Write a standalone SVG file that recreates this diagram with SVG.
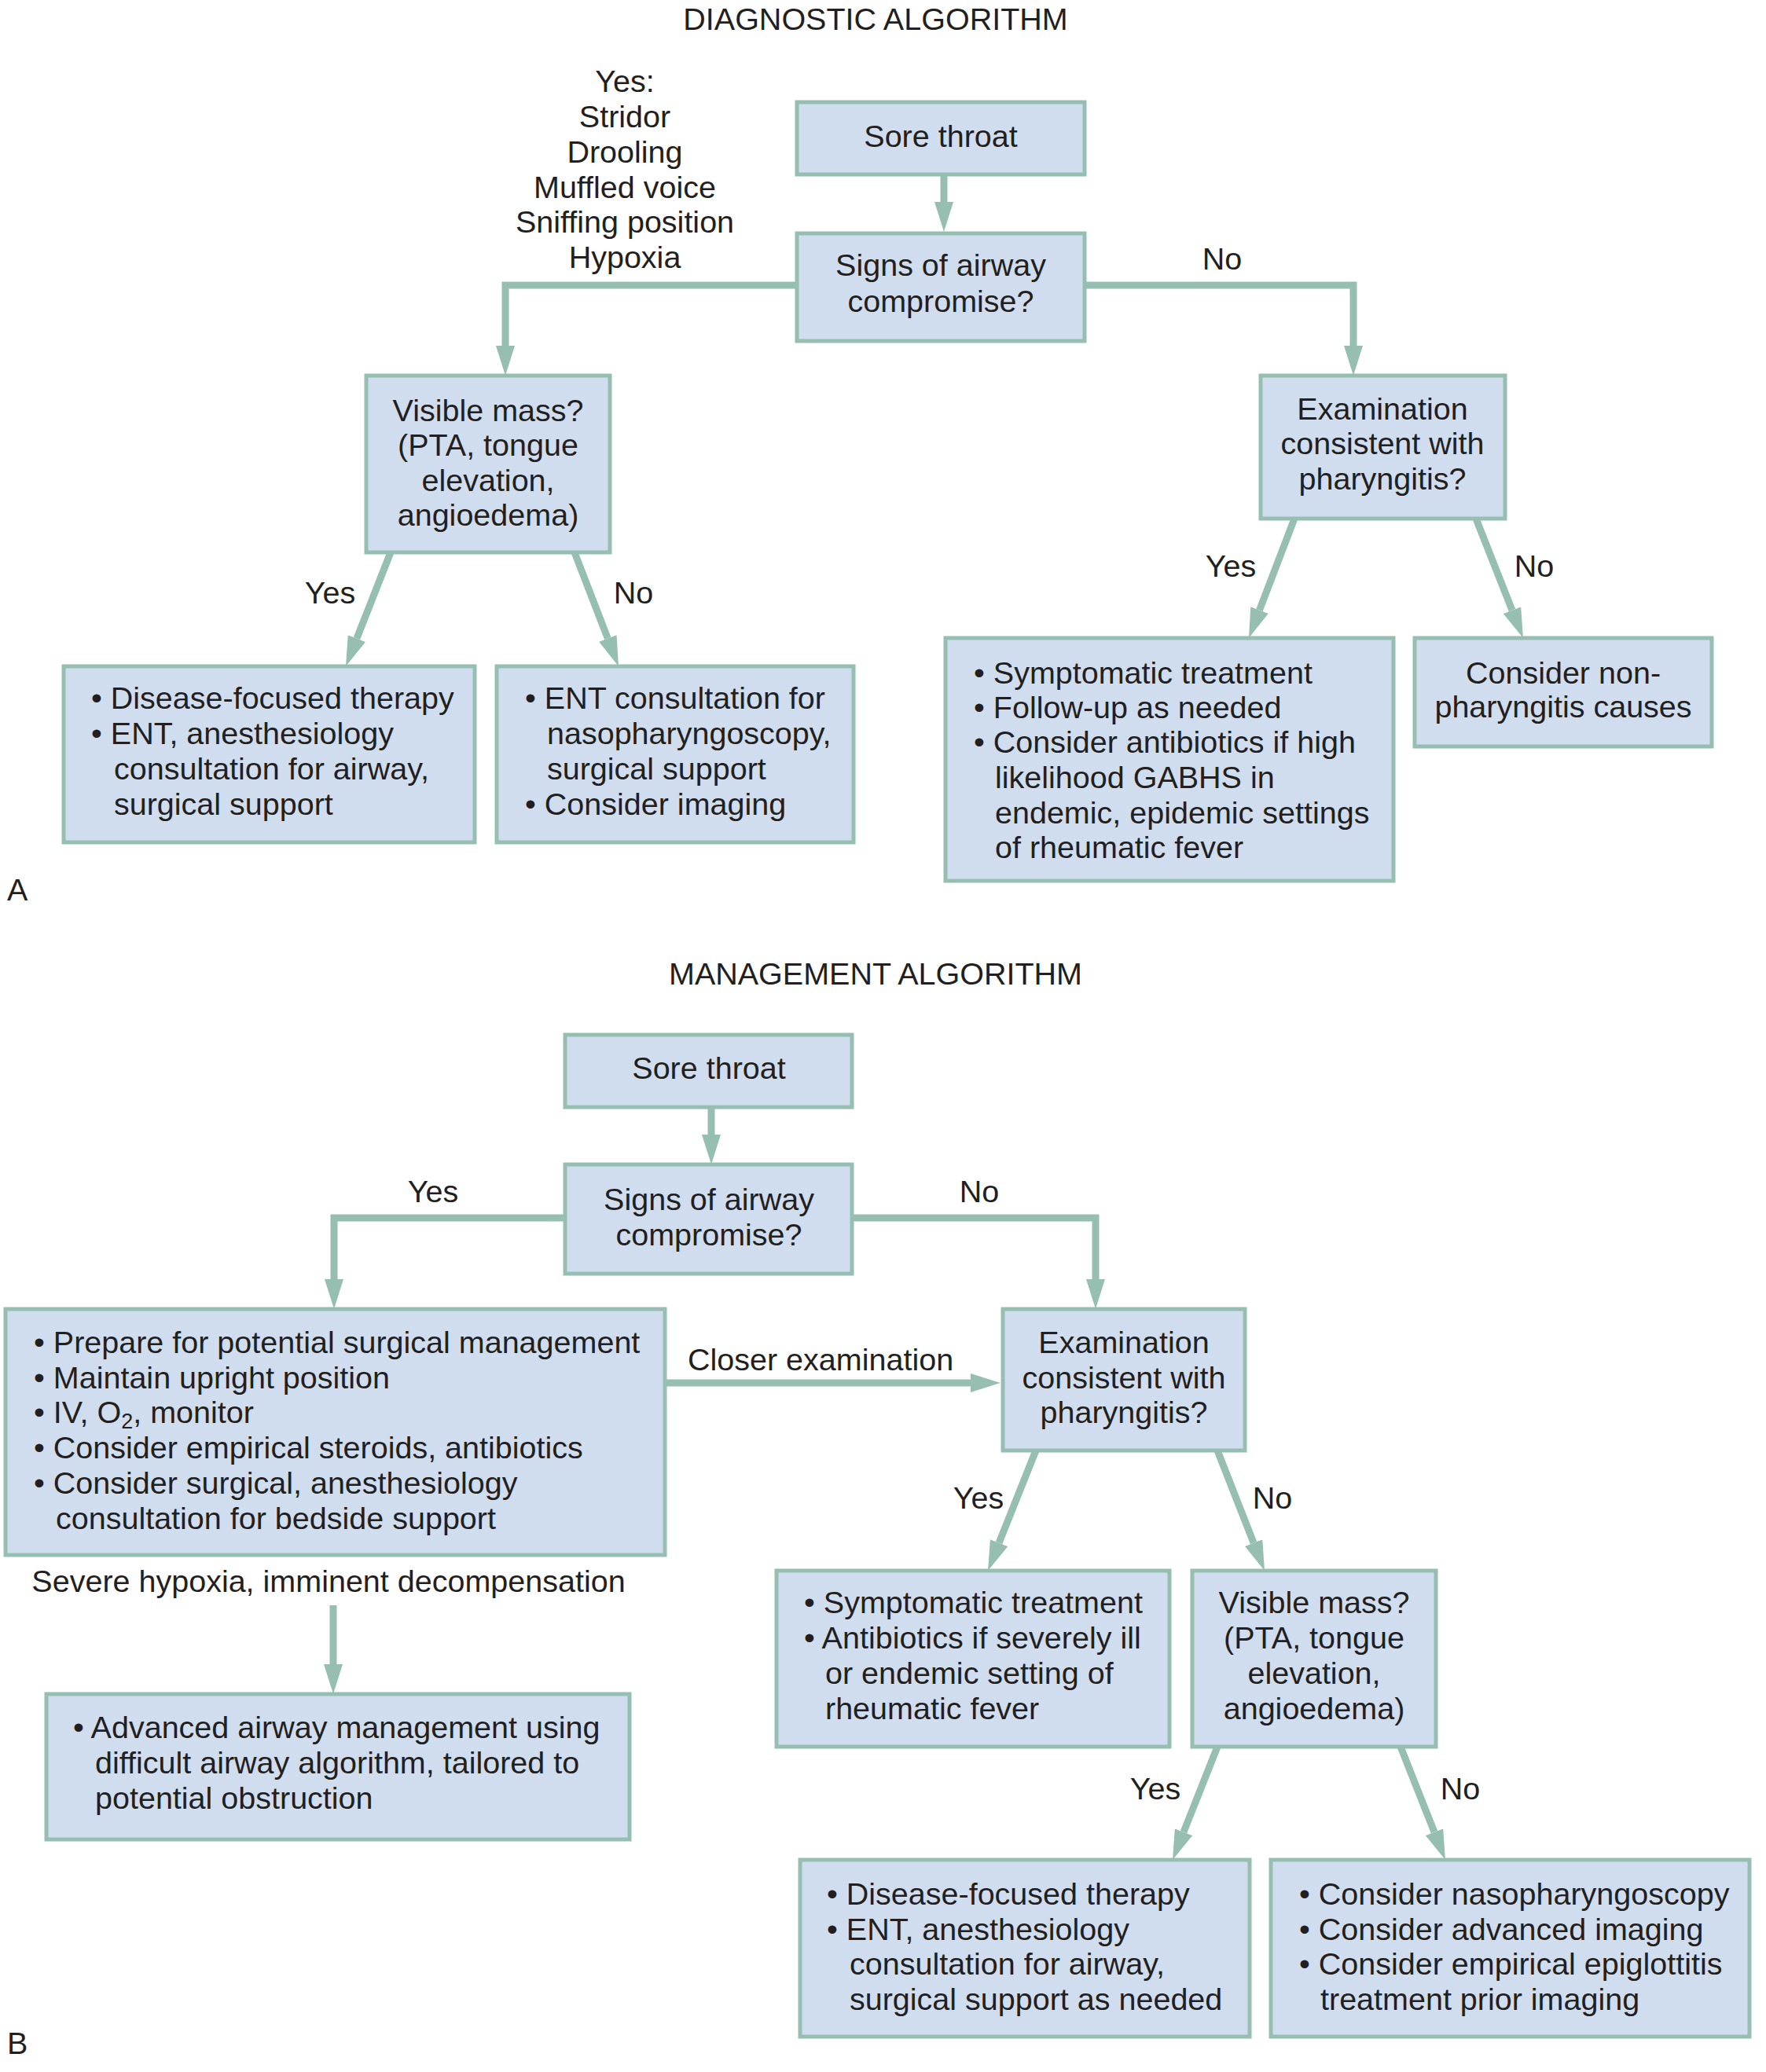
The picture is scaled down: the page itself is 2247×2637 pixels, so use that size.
<svg xmlns="http://www.w3.org/2000/svg" width="2247" height="2637" viewBox="0 0 2247 2637">
<style>
text{font-family:"Liberation Sans",Arial,Helvetica,sans-serif;font-size:39.5px;fill:#231f20}
.c{text-anchor:middle}
.box{fill:#d0ddee;stroke:#96beb1;stroke-width:5}
.ln{fill:none;stroke:#96beb1;stroke-width:9;stroke-linejoin:miter}
</style>
<defs>
<marker id="ah" markerUnits="userSpaceOnUse" viewBox="0 -12 38 24" refX="0" refY="0" markerWidth="38" markerHeight="24" orient="auto">
<path d="M0,-12 L38,0 L0,12 z" fill="#96beb1"/>
</marker>
</defs>
<rect width="2247" height="2637" fill="#ffffff"/>

<g id="labels">
<text class="c" x="1114" y="38">DIAGNOSTIC ALGORITHM</text>
<text class="c" x="795" y="117">Yes:</text>
<text class="c" x="795" y="162">Stridor</text>
<text class="c" x="795" y="207">Drooling</text>
<text class="c" x="795" y="252">Muffled voice</text>
<text class="c" x="795" y="296">Sniffing position</text>
<text class="c" x="795" y="341">Hypoxia</text>
<text class="c" x="1555" y="343">No</text>
<text class="c" x="420" y="768">Yes</text>
<text class="c" x="806" y="768">No</text>
<text class="c" x="1566" y="734">Yes</text>
<text class="c" x="1952" y="734">No</text>
<text x="9" y="1146">A</text>
<text class="c" x="1114" y="1253">MANAGEMENT ALGORITHM</text>
<text class="c" x="551" y="1530">Yes</text>
<text class="c" x="1246" y="1530">No</text>
<text x="875" y="1744">Closer examination</text>
<text class="c" x="418" y="2026">Severe hypoxia, imminent decompensation</text>
<text class="c" x="1245" y="1920">Yes</text>
<text class="c" x="1619" y="1920">No</text>
<text class="c" x="1470" y="2290">Yes</text>
<text class="c" x="1858" y="2290">No</text>
<text x="9" y="2614">B</text>
</g>

<g id="connectors">
<path class="ln" d="M1201,222 V257" marker-end="url(#ah)"/>
<path class="ln" d="M1014,363 H643 V440" marker-end="url(#ah)"/>
<path class="ln" d="M1380,363 H1722 V440" marker-end="url(#ah)"/>
<path class="ln" d="M497,703 L453.9,812.6" marker-end="url(#ah)"/>
<path class="ln" d="M731,703 L773.3,812.5" marker-end="url(#ah)"/>
<path class="ln" d="M1647,660 L1602.5,776.5" marker-end="url(#ah)"/>
<path class="ln" d="M1878,660 L1924,776.7" marker-end="url(#ah)"/>
<path class="ln" d="M905,1409 V1444" marker-end="url(#ah)"/>
<path class="ln" d="M719,1550 H425 V1628" marker-end="url(#ah)"/>
<path class="ln" d="M1084,1550 H1394 V1628" marker-end="url(#ah)"/>
<path class="ln" d="M846,1760 H1235" marker-end="url(#ah)"/>
<path class="ln" d="M424,2043 V2118" marker-end="url(#ah)"/>
<path class="ln" d="M1318,1846 L1271.1,1963.7" marker-end="url(#ah)"/>
<path class="ln" d="M1549,1846 L1595.1,1963.6" marker-end="url(#ah)"/>
<path class="ln" d="M1549,2223 L1506,2331.7" marker-end="url(#ah)"/>
<path class="ln" d="M1782,2223 L1825,2331.7" marker-end="url(#ah)"/>
</g>

<g id="a-sore-throat">
<rect class="box" x="1014" y="130" width="366" height="92"/>
<text class="c" x="1197" y="187">Sore throat</text>
</g>
<g id="a-signs">
<rect class="box" x="1014" y="297" width="366" height="137"/>
<text class="c" x="1197" y="351">Signs of airway</text>
<text class="c" x="1197" y="397">compromise?</text>
</g>
<g id="a-visible-mass">
<rect class="box" x="466" y="478" width="310" height="225"/>
<text class="c" x="621" y="536">Visible mass?</text>
<text class="c" x="621" y="580">(PTA, tongue</text>
<text class="c" x="621" y="625">elevation,</text>
<text class="c" x="621" y="669">angioedema)</text>
</g>
<g id="a-examination">
<rect class="box" x="1604" y="478" width="311" height="182"/>
<text class="c" x="1759" y="534">Examination</text>
<text class="c" x="1759" y="578">consistent with</text>
<text class="c" x="1759" y="623">pharyngitis?</text>
</g>
<g id="a-disease-focused">
<rect class="box" x="81" y="848" width="523" height="224"/>
<text x="116" y="902">• Disease-focused therapy</text>
<text x="116" y="947">• ENT, anesthesiology</text>
<text x="145" y="992">consultation for airway,</text>
<text x="145" y="1037">surgical support</text>
</g>
<g id="a-ent">
<rect class="box" x="632" y="848" width="454" height="224"/>
<text x="668" y="902">• ENT consultation for</text>
<text x="696" y="947">nasopharyngoscopy,</text>
<text x="696" y="992">surgical support</text>
<text x="668" y="1037">• Consider imaging</text>
</g>
<g id="a-symptomatic">
<rect class="box" x="1203" y="812" width="570" height="309"/>
<text x="1239" y="870">• Symptomatic treatment</text>
<text x="1239" y="914">• Follow-up as needed</text>
<text x="1239" y="958">• Consider antibiotics if high</text>
<text x="1266" y="1003">likelihood GABHS in</text>
<text x="1266" y="1048">endemic, epidemic settings</text>
<text x="1266" y="1092">of rheumatic fever</text>
</g>
<g id="a-non-pharyngitis">
<rect class="box" x="1800" y="812" width="378" height="138"/>
<text class="c" x="1989" y="870">Consider non-</text>
<text class="c" x="1989" y="913">pharyngitis causes</text>
</g>

<g id="b-sore-throat">
<rect class="box" x="719" y="1317" width="365" height="92"/>
<text class="c" x="902" y="1373">Sore throat</text>
</g>
<g id="b-signs">
<rect class="box" x="719" y="1482" width="365" height="139"/>
<text class="c" x="902" y="1540">Signs of airway</text>
<text class="c" x="902" y="1585">compromise?</text>
</g>
<g id="b-prepare">
<rect class="box" x="7" y="1666" width="839" height="313"/>
<text x="43" y="1722">• Prepare for potential surgical management</text>
<text x="43" y="1767">• Maintain upright position</text>
<text x="43" y="1811">• IV, O<tspan font-size="27" dy="7">2</tspan><tspan dy="-7">, monitor</tspan></text>
<text x="43" y="1856">• Consider empirical steroids, antibiotics</text>
<text x="43" y="1901">• Consider surgical, anesthesiology</text>
<text x="71" y="1946">consultation for bedside support</text>
</g>
<g id="b-examination">
<rect class="box" x="1276" y="1666" width="308" height="180"/>
<text class="c" x="1430" y="1722">Examination</text>
<text class="c" x="1430" y="1767">consistent with</text>
<text class="c" x="1430" y="1811">pharyngitis?</text>
</g>
<g id="b-advanced-airway">
<rect class="box" x="59" y="2156" width="742" height="185"/>
<text x="93" y="2212">• Advanced airway management using</text>
<text x="121" y="2257">difficult airway algorithm, tailored to</text>
<text x="121" y="2302">potential obstruction</text>
</g>
<g id="b-symptomatic">
<rect class="box" x="988" y="1999" width="500" height="224"/>
<text x="1023" y="2053">• Symptomatic treatment</text>
<text x="1023" y="2098">• Antibiotics if severely ill</text>
<text x="1050" y="2143">or endemic setting of</text>
<text x="1050" y="2188">rheumatic fever</text>
</g>
<g id="b-visible-mass">
<rect class="box" x="1517" y="1999" width="310" height="224"/>
<text class="c" x="1672" y="2053">Visible mass?</text>
<text class="c" x="1672" y="2098">(PTA, tongue</text>
<text class="c" x="1672" y="2143">elevation,</text>
<text class="c" x="1672" y="2188">angioedema)</text>
</g>
<g id="b-disease-focused">
<rect class="box" x="1018" y="2367" width="572" height="225"/>
<text x="1052" y="2424">• Disease-focused therapy</text>
<text x="1052" y="2469">• ENT, anesthesiology</text>
<text x="1081" y="2513">consultation for airway,</text>
<text x="1081" y="2558">surgical support as needed</text>
</g>
<g id="b-consider">
<rect class="box" x="1617" y="2367" width="609" height="225"/>
<text x="1653" y="2424">• Consider nasopharyngoscopy</text>
<text x="1653" y="2469">• Consider advanced imaging</text>
<text x="1653" y="2513">• Consider empirical epiglottitis</text>
<text x="1680" y="2558">treatment prior imaging</text>
</g>
</svg>
